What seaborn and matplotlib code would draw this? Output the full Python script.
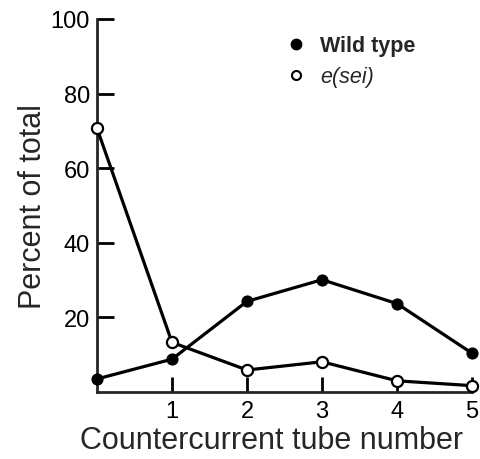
import matplotlib
matplotlib.use("Agg")
import matplotlib.pyplot as plt
import seaborn as sns
import pandas as pd
from matplotlib.lines import Line2D

tubes = [0, 1, 2, 3, 4, 5]
wild_type = [3.5, 8.8, 24.3, 30.1, 23.7, 10.4]
e_sei = [70.7, 13.3, 5.9, 8.1, 3.0, 1.7]
x_ticks = [1, 2, 3, 4, 5]
y_ticks = [20, 40, 60, 80, 100]

df = pd.DataFrame({"tube": tubes, "wild": wild_type, "esei": e_sei})

sns.set_style("ticks")
plt.rcParams['font.family'] = ['Liberation Sans', 'DejaVu Sans']

fig = plt.figure(figsize=(4.8, 4.6), dpi=100)
ax = fig.add_axes([97/480, 67/460, 375/480, 373/460])

sns.lineplot(data=df, x="tube", y="wild", ax=ax, color="black", lw=2.3,
             marker="o", markersize=8, markerfacecolor="black",
             markeredgecolor="black", clip_on=False, zorder=3)
sns.lineplot(data=df, x="tube", y="esei", ax=ax, color="black", lw=2.3,
             marker="o", markersize=8, markerfacecolor="white",
             markeredgecolor="black", markeredgewidth=1.6, clip_on=False, zorder=4)

ax.set_xlim(0, 5)
ax.set_ylim(0, 100)
ax.set_xticks(x_ticks)
ax.set_yticks(y_ticks)
ax.set_xticklabels([str(t) for t in x_ticks])
ax.set_yticklabels([str(t) for t in y_ticks])
sns.despine(ax=ax)
for s in ["left", "bottom"]:
    ax.spines[s].set_linewidth(2)
ax.tick_params(axis="both", direction="in", width=2, labelsize=17, colors="black")
ax.tick_params(axis="x", length=11, pad=6)
ax.tick_params(axis="y", length=12, pad=5)
ax.set_xlabel("Countercurrent tube number", fontsize=22)
ax.set_ylabel("Percent of total", fontsize=22, labelpad=2)
ax.xaxis.set_label_coords(0.465, -0.088)

handles = [
    Line2D([], [], ls="none", marker="o", markersize=7.5, markerfacecolor="black", markeredgecolor="black"),
    Line2D([], [], ls="none", marker="o", markersize=6.5, markerfacecolor="white", markeredgecolor="black", markeredgewidth=1.5),
]
leg = ax.legend(handles, ["Wild type", "e(sei)"], frameon=False, fontsize=15.5,
                loc="upper left", bbox_to_anchor=(266/480, 443/460),
                bbox_transform=fig.transFigure, handletextpad=0.6, labelspacing=0.45,
                handlelength=1.0)
texts = leg.get_texts()
texts[0].set_fontweight("bold")
texts[1].set_fontstyle("italic")

fig.savefig("out.png", dpi=100)
